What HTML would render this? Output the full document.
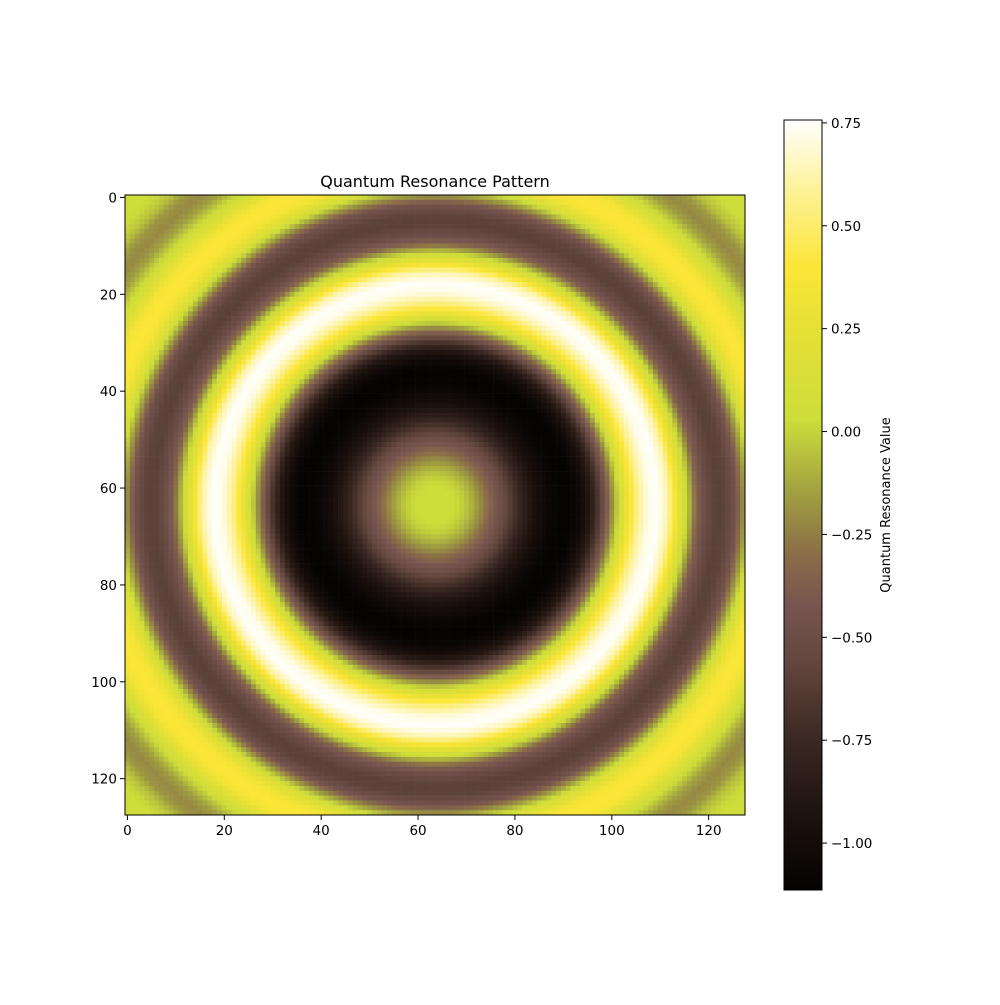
<!DOCTYPE html>
<html><head><meta charset="utf-8"><style>
body{margin:0;background:#fff;font-family:"Liberation Sans","DejaVu Sans",sans-serif}
svg text{font-family:"DejaVu Sans","Liberation Sans",sans-serif;fill:#000}
</style></head><body>
<svg id="chart" width="1000" height="1000" viewBox="0 0 1000 1000" xmlns="http://www.w3.org/2000/svg">
<rect width="1000" height="1000" fill="#fff"/>
<defs><linearGradient id="cbg" x1="0" y1="1" x2="0" y2="0"></linearGradient></defs>
<g id="cells"></g>
<rect x="125" y="195" width="620" height="620" fill="none" stroke="#000" stroke-width="1"/>
<text x="435" y="187" font-size="16" text-anchor="middle">Quantum Resonance Pattern</text>
<g id="xticks"></g>
<g id="yticks"></g>
<rect x="784" y="120" width="38" height="770" fill="url(#cbg)"/>
<rect x="784" y="120" width="38" height="770" fill="none" stroke="#000" stroke-width="1"/>
<g id="cticks"></g>
<text transform="translate(890,505) rotate(-90)" font-size="13" text-anchor="middle">Quantum Resonance Value</text>
</svg>
<script>
// Data: radial profile (value at radius r = index*2 from centre)
const gridSize = 128;
const radiusStep = 2;
const radialProfile = [0.05,0.05,0.03,-0.02,-0.12,-0.25,-0.38,-0.5,-0.65,-0.8,-0.92,-1.0,-1.07,-1.1,-1.1,-1.02,-0.88,-0.62,-0.3,0.05,0.35,0.58,0.72,0.75,0.62,0.3,0.0,-0.35,-0.52,-0.6,-0.58,-0.45,-0.15,0.15,0.35,0.4,0.35,0.15,0.0,-0.15,-0.22,-0.18,-0.05,0.02,0.05,0.05,0.05];
const axisTicks = [0,20,40,60,80,100,120];
const colorbarTicks = [0.75,0.5,0.25,0.0,-0.25,-0.5,-0.75,-1.0];
const colorbarTickLabels = ["0.75","0.50","0.25","0.00","\u22120.25","\u22120.50","\u22120.75","\u22121.00"];
const vmin = -1.114, vmax = 0.757;
const cmapValues = [-1.114,-0.95,-0.75,-0.55,-0.42,-0.3,-0.15,0.03,0.25,0.4,0.6,0.757];
const cmapColors = ["#040202","#1a100c","#3a2822","#654840","#775550","#8a6d48","#a0a040","#cddd3a","#e6e035","#fbe637","#fdf3a0","#ffffff"];

const NS="http://www.w3.org/2000/svg";
const X0=125,Y0=195,W=620;
const cw=W/gridSize;
function xs(i){return X0+i*cw;}
function ys(j){return Y0+j*cw;}
function cbY(v){return 120+(vmax-v)/(vmax-vmin)*770;}
function hex(h){return [1,3,5].map(k=>parseInt(h.substr(k,2),16));}
function color(v){
  if(v<=cmapValues[0])return cmapColors[0];
  for(let k=1;k<cmapValues.length;k++){
    if(v<=cmapValues[k]){
      const t=(v-cmapValues[k-1])/(cmapValues[k]-cmapValues[k-1]);
      const a=hex(cmapColors[k-1]),b=hex(cmapColors[k]);
      return "rgb("+a.map((c,i)=>Math.round(c+(b[i]-c)*t)).join(",")+")";
    }
  }
  return cmapColors[cmapColors.length-1];
}
function profile(r){
  const f=r/radiusStep;const k=Math.floor(f);
  if(k>=radialProfile.length-1)return radialProfile[radialProfile.length-1];
  const t=f-k;return radialProfile[k]*(1-t)+radialProfile[k+1]*t;
}
const cells=document.getElementById('cells');
const c=(gridSize-1)/2;
for(let j=0;j<gridSize;j++){for(let i=0;i<gridSize;i++){
  const v=profile(Math.hypot(i-c,j-c));
  const r=document.createElementNS(NS,'rect');
  r.setAttribute('x',xs(i).toFixed(2));r.setAttribute('y',ys(j).toFixed(2));
  r.setAttribute('width',(cw+0.3).toFixed(2));r.setAttribute('height',(cw+0.3).toFixed(2));
  r.setAttribute('fill',color(v));
  
  
  cells.appendChild(r);
}}
const g=document.getElementById('cbg');
cmapValues.forEach((v,k)=>{const s=document.createElementNS(NS,'stop');
  s.setAttribute('offset',((v-vmin)/(vmax-vmin)).toFixed(4));s.setAttribute('stop-color',cmapColors[k]);g.appendChild(s);});
function line(p,x1,y1,x2,y2){const l=document.createElementNS(NS,'line');
  l.setAttribute('x1',x1);l.setAttribute('y1',y1);l.setAttribute('x2',x2);l.setAttribute('y2',y2);
  l.setAttribute('stroke','#000');l.setAttribute('stroke-width','1');
  
  
  p.appendChild(l);}
function text(p,x,y,s,anchor,name){const t=document.createElementNS(NS,'text');
  t.setAttribute('x',x);t.setAttribute('y',y);t.setAttribute('font-size','13.5');t.setAttribute('text-anchor',anchor);
  t.textContent=s;
  
  
  p.appendChild(t);}
const gx=document.getElementById('xticks'),gy=document.getElementById('yticks'),gc=document.getElementById('cticks');
axisTicks.forEach(v=>{
  const x=xs(v+0.5);line(gx,x,815,x,820);text(gx,x,835,String(v),'middle','x-tick-label');
  const y=ys(v+0.5);line(gy,120,y,125,y);text(gy,117,y+5,String(v),'end','y-tick-label');
});
colorbarTicks.forEach((v,k)=>{const y=cbY(v);line(gc,822,y,827,y);text(gc,831,y+5,colorbarTickLabels[k],'start','colorbar-tick-label');});
</script>
</body></html>
